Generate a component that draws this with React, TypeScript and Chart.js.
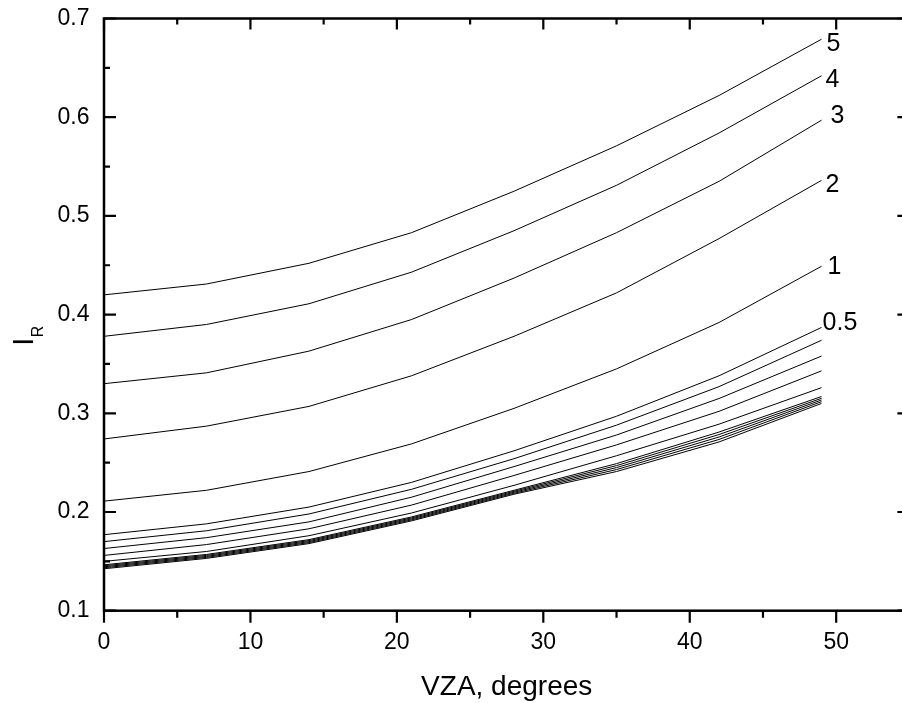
import React, { useEffect, useRef } from "react";
import { Chart, registerables } from "chart.js";

Chart.register(...registerables);

// VZA (degrees) sample positions
const VZA = [0, 7, 14, 21, 28, 35, 42, 49];

// Series names (only the first six are printed on the plot)
const SERIES_NAMES = ["5", "4", "3", "2", "1", "0.5", "0.4", "0.3", "0.2", "0.1", "0.05", "0.04", "0.03", "0.02", "0.01"];
const PRINTED_NAMES = ["5", "4", "3", "2", "1", "0.5"];

// I_R values for each series
const S5 = [0.42, 0.431, 0.452, 0.483, 0.525, 0.571, 0.622, 0.679];
const S4 = [0.378, 0.39, 0.411, 0.443, 0.485, 0.531, 0.584, 0.642];
const S3 = [0.33, 0.341, 0.363, 0.395, 0.437, 0.483, 0.535, 0.597];
const S2 = [0.274, 0.287, 0.307, 0.338, 0.378, 0.422, 0.477, 0.536];
const S1 = [0.211, 0.222, 0.241, 0.269, 0.305, 0.345, 0.392, 0.449];
const S05 = [0.177, 0.188, 0.205, 0.23, 0.262, 0.297, 0.338, 0.387];
const S04 = [0.17, 0.181, 0.198, 0.223, 0.254, 0.288, 0.327, 0.374];
const S03 = [0.163, 0.174, 0.19, 0.215, 0.246, 0.278, 0.315, 0.358];
const S02 = [0.156, 0.167, 0.183, 0.207, 0.237, 0.268, 0.302, 0.343];
const S01 = [0.15, 0.16, 0.176, 0.199, 0.227, 0.257, 0.289, 0.326];
const S005 = [0.1465, 0.157, 0.172, 0.195, 0.222, 0.249, 0.281, 0.317];
const S004 = [0.1455, 0.156, 0.171, 0.194, 0.221, 0.247, 0.2785, 0.3152];
const S003 = [0.1445, 0.155, 0.17, 0.193, 0.22, 0.245, 0.276, 0.3135];
const S002 = [0.1435, 0.154, 0.169, 0.192, 0.219, 0.243, 0.2735, 0.3118];
const S001 = [0.1425, 0.153, 0.168, 0.191, 0.218, 0.241, 0.271, 0.31];

const SERIES = [S5, S4, S3, S2, S1, S05, S04, S03, S02, S01, S005, S004, S003, S002, S001];

// Axis ticks
const X_MAJOR = [0, 10, 20, 30, 40, 50];
const X_MINOR = [5, 15, 25, 35, 45, 55];
const Y_MAJOR = [0.1, 0.2, 0.3, 0.4, 0.5, 0.6, 0.7];
const Y_MINOR = [0.15, 0.25, 0.35, 0.45, 0.55, 0.65];

const X_TITLE = "VZA, degrees";
const Y_TITLE_MAIN = "I";
const Y_TITLE_SUB = "R";

// label nudges (style only)
const LABEL_DX = [5, 4, 9, 4, 6, 1];
const LABEL_DY = [5, 4, -4, 5, 1, -4];

const FONT = "'Liberation Sans', Arial, Helvetica, sans-serif";

const CANVAS_W = 920;
const CANVAS_H = 703;

export default function App() {
  const ref = useRef<HTMLCanvasElement | null>(null);

  useEffect(() => {
    const canvas = ref.current;
    if (!canvas) return;

    const framePlugin = {
      id: "frame",
      afterDraw(chart: any) {
        const { ctx, chartArea } = chart;
        const { left, right, top, bottom } = chartArea;
        const xs = chart.scales.x;
        const ys = chart.scales.y;
        ctx.save();
        ctx.strokeStyle = "#000";
        ctx.lineWidth = 2.5;
        ctx.strokeRect(left, top, right - left, bottom - top);
        ctx.lineWidth = 2.2;
        ctx.beginPath();
        const xt = (v: number, major: boolean) => {
          const p = xs.getPixelForValue(v);
          ctx.moveTo(p, bottom);
          ctx.lineTo(p, bottom + (major ? 12 : 7));
          ctx.moveTo(p, top);
          ctx.lineTo(p, top + (major ? 11 : 6));
        };
        X_MAJOR.forEach((v) => xt(v, true));
        X_MINOR.forEach((v) => xt(v, false));
        const yt = (v: number, major: boolean) => {
          const p = ys.getPixelForValue(v);
          ctx.moveTo(left, p);
          ctx.lineTo(left + (major ? 12 : 6), p);
          ctx.moveTo(right, p);
          ctx.lineTo(right - (major ? 12 : 6), p);
        };
        Y_MAJOR.forEach((v) => yt(v, true));
        Y_MINOR.forEach((v) => yt(v, false));
        ctx.stroke();

        // series labels
        ctx.fillStyle = "#000";
        ctx.font = `25px ${FONT}`;
        ctx.textAlign = "left";
        ctx.textBaseline = "middle";
        PRINTED_NAMES.forEach((name, i) => {
          const data = SERIES[i];
          const px = xs.getPixelForValue(VZA[VZA.length - 1]);
          const py = ys.getPixelForValue(data[data.length - 1]);
          ctx.fillText(name, px + LABEL_DX[i], py + LABEL_DY[i]);
        });

        // x title
        ctx.font = `28px ${FONT}`;
        ctx.textAlign = "center";
        ctx.textBaseline = "alphabetic";
        ctx.fillText(X_TITLE, (left + right) / 2, 695);

        // y title (rotated)
        ctx.translate(32.7, 345.7);
        ctx.rotate(-Math.PI / 2);
        ctx.textAlign = "left";
        ctx.font = `29px ${FONT}`;
        ctx.fillText(Y_TITLE_MAIN, 0, 0);
        ctx.font = `16px ${FONT}`;
        ctx.fillText(Y_TITLE_SUB, 8.5, 10.6);
        ctx.restore();
      },
    };

    const chart = new Chart(canvas, {
      type: "line",
      data: {
        datasets: SERIES.map((s, i) => ({
          label: SERIES_NAMES[i],
          data: s.map((y, j) => ({ x: VZA[j], y })),
          borderColor: "#000",
          borderWidth: 1,
          pointRadius: 0,
          tension: 0,
          fill: false,
        })),
      },
      options: {
        responsive: false,
        maintainAspectRatio: false,
        devicePixelRatio: 1,
        animation: false,
        layout: { padding: { top: 18.5, right: CANVAS_W - 909.4, left: 0, bottom: 0 } },
        plugins: { legend: { display: false }, tooltip: { enabled: false } },
        scales: {
          x: {
            type: "linear",
            min: 0,
            max: 55,
            grid: { display: false, drawTicks: false },
            border: { display: false },
            afterBuildTicks: (scale: any) => {
              scale.ticks = X_MAJOR.map((v) => ({ value: v }));
            },
            afterFit: (scale: any) => {
              scale.height = CANVAS_H - 610.7;
              scale.paddingLeft = 0;
              scale.paddingRight = 0;
            },
            ticks: {
              color: "#000",
              font: { family: FONT, size: 23 },
              padding: 18,
              maxRotation: 0,
              callback: (v: any) => String(v),
            },
          },
          y: {
            type: "linear",
            min: 0.1,
            max: 0.7,
            grid: { display: false, drawTicks: false },
            border: { display: false },
            afterBuildTicks: (scale: any) => {
              scale.ticks = Y_MAJOR.map((v) => ({ value: v }));
            },
            afterFit: (scale: any) => {
              scale.width = 104;
              scale.paddingTop = 0;
              scale.paddingBottom = 0;
            },
            ticks: {
              color: "#000",
              font: { family: FONT, size: 23 },
              padding: 14.5,
              callback: (v: any) => Number(v).toFixed(1),
            },
          },
        },
      },
      plugins: [framePlugin],
    } as any);

    return () => chart.destroy();
  }, []);

  return (
    <div
      style={{
        position: "fixed",
        left: 0,
        top: 0,
        width: 902,
        height: 703,
        overflow: "hidden",
        background: "#fff",
      }}
    >
      <canvas ref={ref} width={CANVAS_W} height={CANVAS_H} style={{ display: "block", width: CANVAS_W, height: CANVAS_H }} />
    </div>
  );
}
